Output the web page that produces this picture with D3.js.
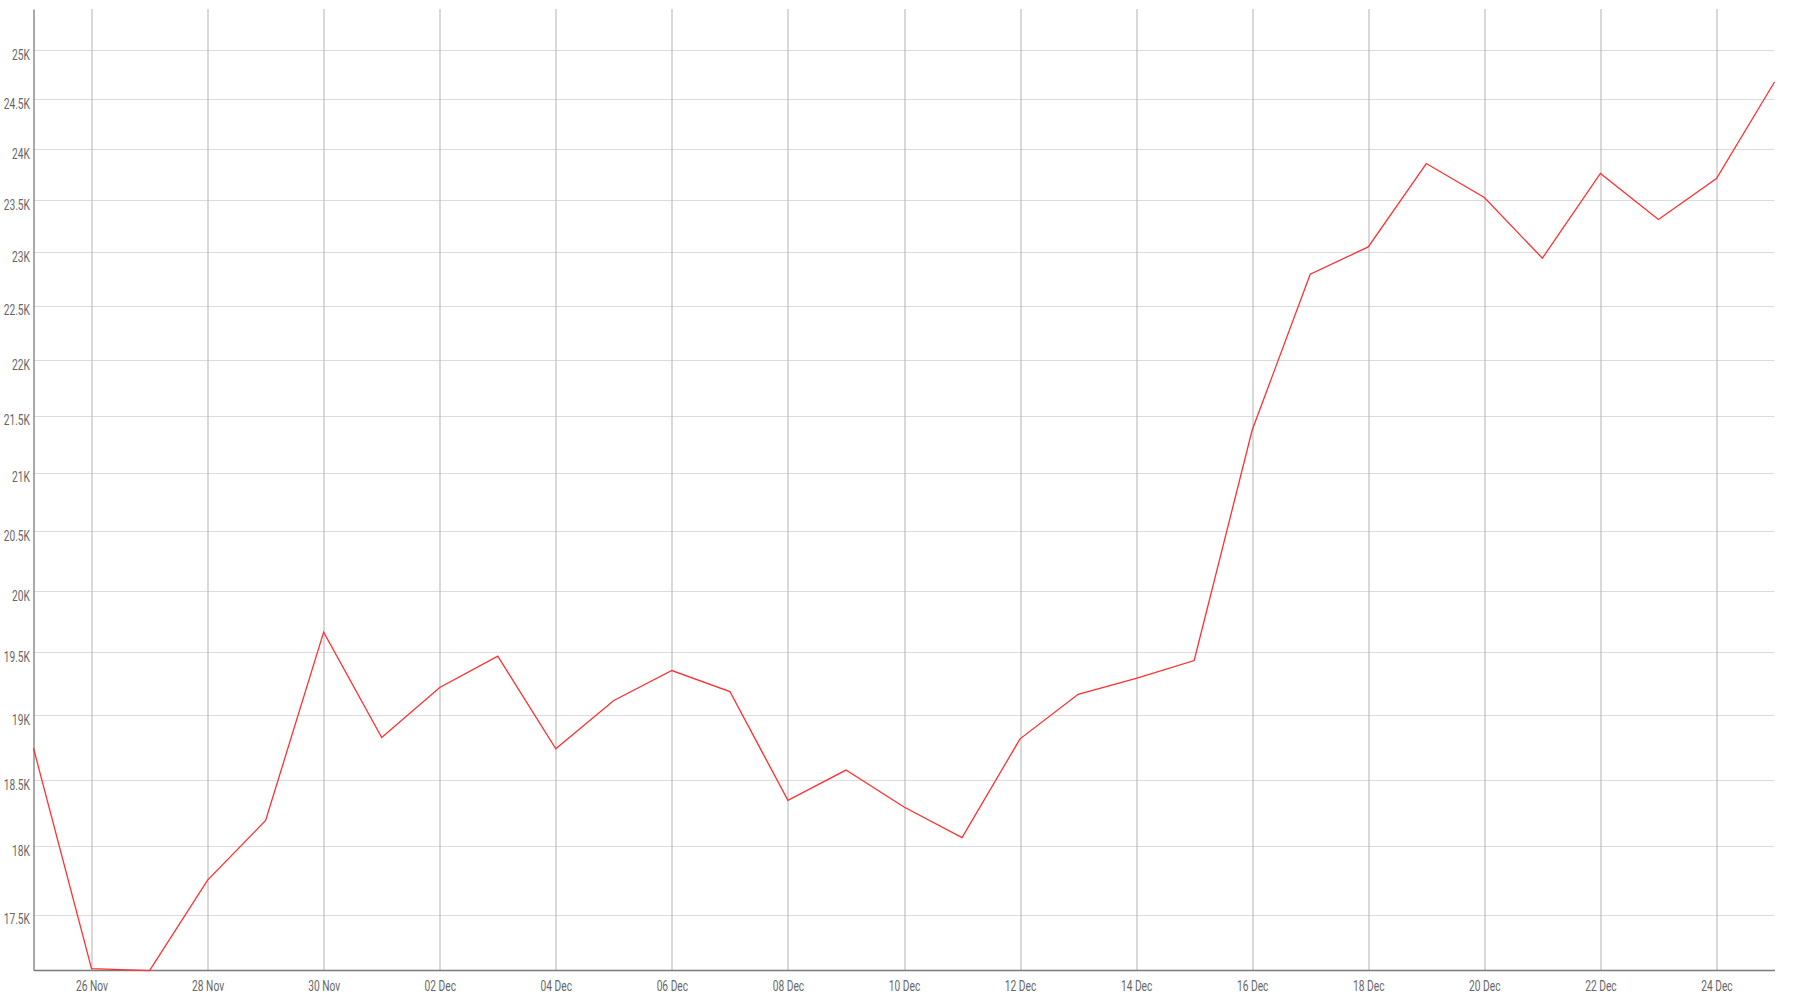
<!DOCTYPE html>
<html>
<head>
<meta charset="utf-8">
<script src="https://cdn.jsdelivr.net/npm/d3@7"></script>
<style>
  html, body { margin: 0; padding: 0; background: #fff; }
  svg { display: block; }
  text { font-family: Roboto, "Noto Sans", sans-serif; }
</style>
</head>
<body>
<svg id="chart" width="1800" height="1000"></svg>
<script>
// ---- data ----
const dates = [
  "2020-11-25","2020-11-26","2020-11-27","2020-11-28","2020-11-29","2020-11-30",
  "2020-12-01","2020-12-02","2020-12-03","2020-12-04","2020-12-05","2020-12-06",
  "2020-12-07","2020-12-08","2020-12-09","2020-12-10","2020-12-11","2020-12-12",
  "2020-12-13","2020-12-14","2020-12-15","2020-12-16","2020-12-17","2020-12-18",
  "2020-12-19","2020-12-20","2020-12-21","2020-12-22","2020-12-23","2020-12-24",
  "2020-12-25"
];
const values = [
  18744, 17115, 17101, 17751, 18194, 19664,
  18827, 19220, 19470, 18740, 19117, 19355,
  19188, 18345, 18576, 18295, 18065, 18817,
  19166, 19293, 19435, 21374, 22794, 23052,
  23859, 23527, 22945, 23761, 23314, 23712,
  24675
];
const xTickDates = [
  "2020-11-26","2020-11-28","2020-11-30","2020-12-02","2020-12-04","2020-12-06",
  "2020-12-08","2020-12-10","2020-12-12","2020-12-14","2020-12-16","2020-12-18",
  "2020-12-20","2020-12-22","2020-12-24"
];
const yTicks = [17500, 18000, 18500, 19000, 19500, 20000, 20500, 21000, 21500,
                22000, 22500, 23000, 23500, 24000, 24500, 25000];
const yDomain = [17105, 25430];

// ---- layout ----
const W = 1800, H = 1000;
const margin = { top: 9, right: 25.5, bottom: 30, left: 33.5 };
const innerW = W - margin.left - margin.right;
const innerH = H - margin.top - margin.bottom;
const SX = 0.73; // horizontal squeeze for condensed-looking labels

const parse = d3.timeParse("%Y-%m-%d");
const data = dates.map((d, i) => ({ date: parse(d), value: values[i] }));
const xTicks = xTickDates.map(parse);

const svg = d3.select("#chart");
const g = svg.append("g").attr("transform", `translate(${margin.left},${margin.top})`);

const x = d3.scaleTime()
  .domain(d3.extent(data, d => d.date))
  .range([0, innerW]);
const y = d3.scaleLog()
  .domain(yDomain)
  .range([innerH, 0]);

// horizontal gridlines
g.append("g")
  .selectAll("line")
  .data(yTicks)
  .join("line")
  .attr("x1", 0).attr("x2", innerW)
  .attr("y1", d => Math.round(y(d)) + 0.5)
  .attr("y2", d => Math.round(y(d)) + 0.5)
  .attr("stroke", "#dcdcdc")
  .attr("stroke-width", 1.2);

// vertical gridlines
g.append("g")
  .selectAll("line")
  .data(xTicks)
  .join("line")
  .attr("x1", d => Math.round(x(d)) + 0.5)
  .attr("x2", d => Math.round(x(d)) + 0.5)
  .attr("y1", 0).attr("y2", innerH)
  .attr("stroke", "#b3b3b3")
  .attr("stroke-width", 1);

// x axis
const fmtX = d3.timeFormat("%d %b");
const xAxis = g.append("g")
  .attr("transform", `translate(0,${innerH})`)
  .call(d3.axisBottom(x).tickValues(xTicks).tickFormat(fmtX).tickSize(0).tickPadding(11.5));
xAxis.select(".domain").attr("stroke", "#7a7a7a").attr("stroke-width", 1.3);
xAxis.selectAll("text")
  .attr("fill", "#666")
  .attr("font-size", 14)
  .attr("transform", `scale(${SX},1)`);

// y axis (labels sit just below their gridline)
const yAxis = g.append("g")
  .call(d3.axisLeft(y).tickValues(yTicks).tickFormat(v => (v / 1000) + "K").tickSize(0).tickPadding(0));
yAxis.select(".domain").attr("stroke", "#7a7a7a").attr("stroke-width", 1.3);
yAxis.selectAll("text")
  .attr("fill", "#666")
  .attr("font-size", 14)
  .attr("x", -3.5 / SX)
  .attr("dy", "9px")
  .attr("transform", `scale(${SX},1)`);

// line
const line = d3.line()
  .x(d => x(d.date))
  .y(d => y(d.value));
g.append("path")
  .datum(data)
  .attr("fill", "none")
  .attr("stroke", "#ff3030")
  .attr("stroke-width", 1.3)
  .attr("stroke-linejoin", "miter")
  .attr("d", line);
</script>
</body>
</html>
